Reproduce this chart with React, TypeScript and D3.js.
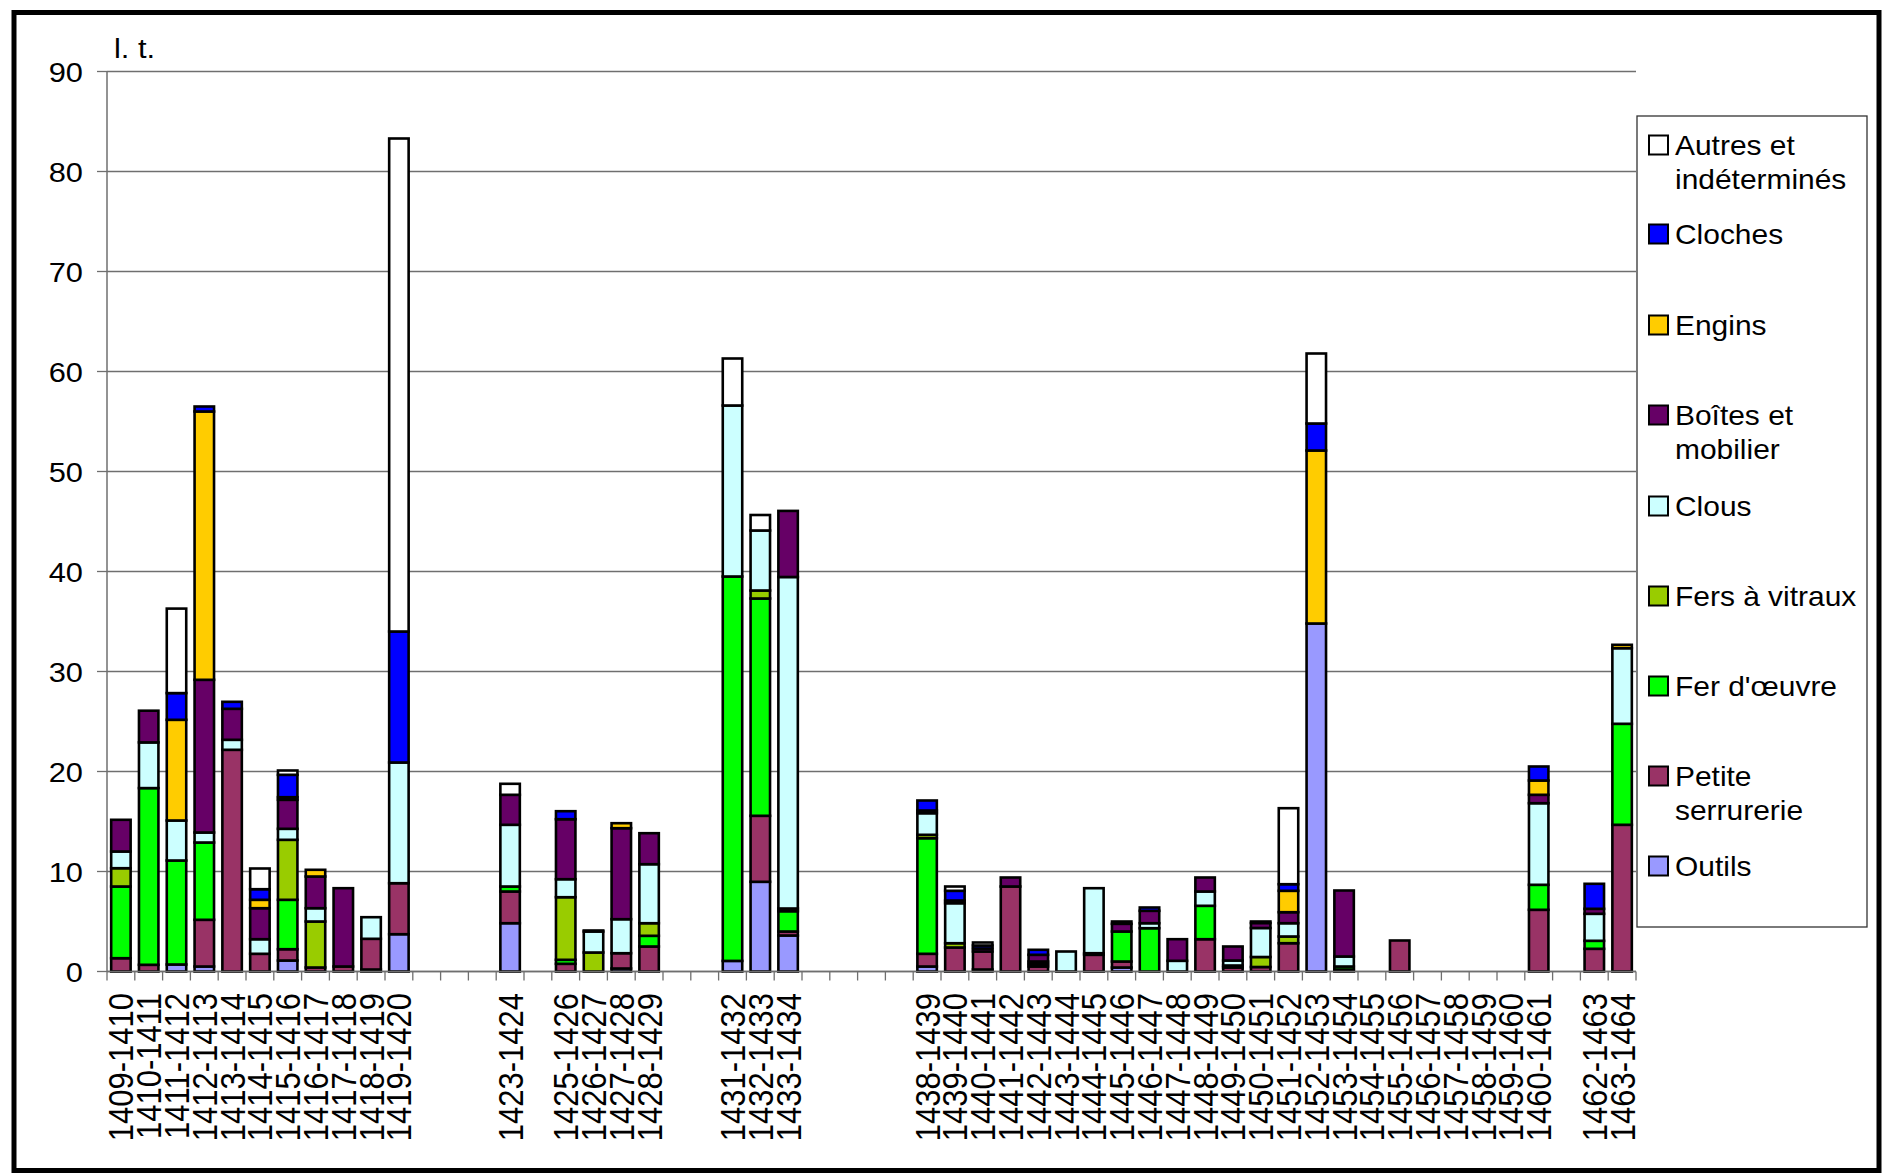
import React from "react";
import * as d3 from "d3";

const categories: string[] = [
  "1409-1410", "1410-1411", "1411-1412", "1412-1413", "1413-1414", "1414-1415", "1415-1416", "1416-1417", "1417-1418", "1418-1419", "1419-1420",
  "", "", "",
  "1423-1424",
  "",
  "1425-1426", "1426-1427", "1427-1428", "1428-1429",
  "", "",
  "1431-1432", "1432-1433", "1433-1434",
  "", "", "", "",
  "1438-1439", "1439-1440", "1440-1441", "1441-1442", "1442-1443", "1443-1444", "1444-1445", "1445-1446", "1446-1447", "1447-1448",
  "1448-1449", "1449-1450", "1450-1451", "1451-1452", "1452-1453", "1453-1454", "1454-1455", "1455-1456", "1456-1457", "1457-1458",
  "1458-1459", "1459-1460", "1460-1461",
  "",
  "1462-1463", "1463-1464",
];

// Stack order bottom -> top
const outils = [0, 0, 0.7, 0.5, 0, 0, 1.1, 0, 0, 0.2, 3.73, 0, 0, 0, 4.83, 0, 0, 0, 0.3, 0, 0, 0, 1.06, 8.97, 3.6, 0, 0, 0, 0, 0.5, 0, 0.2, 0, 0, 0, 0, 0.4, 0, 0, 0, 0, 0, 0, 34.8, 0, 0, 0, 0, 0, 0, 0, 0, 0, 0, 0];
const petite = [1.33, 0.67, 0, 4.67, 22.17, 1.77, 1.13, 0.4, 0.5, 3.07, 5.1, 0, 0, 0, 3.17, 0, 0.77, 0, 1.53, 2.5, 0, 0, 0, 6.6, 0.4, 0, 0, 0, 0, 1.27, 2.4, 1.8, 8.5, 0.5, 0, 1.67, 0.6, 0, 0, 3.23, 0.4, 0.45, 2.83, 0, 0.2, 0, 3.1, 0, 0, 0, 0, 6.17, 0, 2.27, 14.67];
const ferOeuvre = [7.17, 17.67, 10.4, 7.73, 0, 0, 4.94, 0, 0, 0, 0, 0, 0, 0, 0.5, 0, 0.4, 0, 0, 1.07, 0, 0, 38.44, 21.73, 2.03, 0, 0, 0, 0, 11.56, 0, 0, 0, 0.25, 0, 0.16, 3.0, 4.33, 0, 3.34, 0.2, 0, 0, 0, 0.3, 0, 0, 0, 0, 0, 0, 2.5, 0, 0.8, 10.1];
const fersVitraux = [1.83, 0, 0, 0, 0, 0, 6.0, 4.6, 0, 0, 0, 0, 0, 0, 0, 0, 6.26, 1.9, 0, 1.26, 0, 0, 0, 0.8, 0.27, 0, 0, 0, 0, 0.34, 0.43, 0, 0, 0.25, 0, 0, 0, 0, 0, 0, 0, 1.0, 0.67, 0, 0, 0, 0, 0, 0, 0, 0, 0, 0, 0, 0];
const clous = [1.67, 4.57, 4.0, 1.0, 1.0, 1.46, 1.1, 1.33, 0, 2.16, 12.07, 0, 0, 0, 6.17, 0, 1.8, 2.1, 3.4, 5.9, 0, 0, 17.1, 6.0, 33.15, 0, 0, 0, 0, 2.16, 4.0, 0, 0, 0, 2.0, 6.5, 0, 0.5, 1.07, 1.43, 0.5, 2.9, 1.33, 0, 1.0, 0, 0, 0, 0, 0, 0, 8.16, 0, 2.7, 7.56];
const boites = [3.17, 3.17, 0, 15.27, 3.1, 3.1, 2.9, 3.17, 7.83, 0, 0, 0, 0, 0, 3.0, 0, 6.0, 0.1, 9.1, 3.1, 0, 0, 0, 0, 6.61, 0, 0, 0, 0, 0.27, 0.27, 0.3, 0.9, 0.67, 0, 0, 0.77, 1.24, 2.16, 1.4, 1.4, 0.5, 1.1, 0, 6.6, 0, 0, 0, 0, 0, 0, 0.84, 0, 0.5, 0];
const engins = [0, 0, 10.07, 26.83, 0, 0.84, 0.26, 0.67, 0, 0, 0, 0, 0, 0, 0, 0, 0, 0, 0.5, 0, 0, 0, 0, 0, 0, 0, 0, 0, 0, 0, 0, 0, 0, 0, 0, 0, 0, 0, 0, 0, 0, 0, 2.14, 17.3, 0, 0, 0, 0, 0, 0, 0, 1.43, 0, 0, 0.34];
const cloches = [0, 0, 2.67, 0.5, 0.7, 1.06, 2.24, 0, 0, 0, 13.1, 0, 0, 0, 0, 0, 0.8, 0, 0, 0, 0, 0, 0, 0, 0, 0, 0, 0, 0, 1.0, 0.97, 0.3, 0, 0.5, 0, 0, 0.23, 0.33, 0, 0, 0, 0.15, 0.66, 2.7, 0, 0, 0, 0, 0, 0, 0, 1.4, 0, 2.5, 0];
const autres = [0, 0, 8.45, 0, 0, 2.07, 0.43, 0, 0, 0, 49.3, 0, 0, 0, 1.1, 0, 0, 0, 0, 0, 0, 0, 4.7, 1.55, 0, 0, 0, 0, 0, 0, 0.43, 0.3, 0, 0, 0, 0, 0, 0, 0, 0, 0, 0, 7.6, 7.0, 0, 0, 0, 0, 0, 0, 0, 0, 0, 0, 0];

const seriesNames = ["Outils", "Petite serrurerie", "Fer d'œuvre", "Fers à vitraux", "Clous", "Boîtes et mobilier", "Engins", "Cloches", "Autres et indéterminés"];
const seriesColors = ["#9999FF", "#993366", "#00FF00", "#99CC00", "#CCFFFF", "#660066", "#FFCC00", "#0000FF", "#FFFFFF"];
const seriesValues = [outils, petite, ferOeuvre, fersVitraux, clous, boites, engins, cloches, autres];

// legend order top -> bottom, with line breaks
const legendLines: string[][] = [
  ["Autres et", "indéterminés"],
  ["Cloches"],
  ["Engins"],
  ["Boîtes et", "mobilier"],
  ["Clous"],
  ["Fers à vitraux"],
  ["Fer d'œuvre"],
  ["Petite", "serrurerie"],
  ["Outils"],
];
const legendSeriesIndex = [8, 7, 6, 5, 4, 3, 2, 1, 0];

const yTicks = [0, 10, 20, 30, 40, 50, 60, 70, 80, 90];

const W = 1883;
const H = 1176;
const FONT = "'Liberation Sans', Arial, Helvetica, sans-serif";

export default function App() {
  const plotLeft = 107;
  const plotRight = 1636;
  const plotTop = 71.5;
  const plotBottom = 971.5;

  const keys = categories.map((_, i) => String(i));
  const x = d3.scaleBand<string>().domain(keys).range([plotLeft, plotRight]).paddingInner(0.3).paddingOuter(0.15);
  const step = (plotRight - plotLeft) / categories.length;
  const y = d3.scaleLinear().domain([0, 90]).range([plotBottom, plotTop]);

  const table = categories.map((c, i) => {
    const row: Record<string, number | string> = { key: String(i) };
    seriesNames.forEach((s, j) => (row[s] = seriesValues[j][i]));
    return row;
  });
  const stacked = d3.stack<Record<string, number | string>>().keys(seriesNames).value((d, k) => d[k] as number)(table);

  const gridColor = "#6f6f6f";

  const legendX = 1637;
  const legendY = 116;
  const legendW = 230;
  const legendH = 811;
  const itemY = [145, 234, 325, 415, 506, 596, 686, 776, 866];

  return (
    <div style={{ position: "absolute", left: 0, top: 0 }}>
      <svg width={W} height={H} style={{ display: "block", background: "#fff" }} fontFamily={FONT}>
        <rect x={0} y={0} width={W} height={H} fill="#fff" />
        {/* outer frame */}
        <rect x={14} y={12.5} width={1865} height={1158} fill="none" stroke="#000" strokeWidth={5} />

        {/* gridlines */}
        {yTicks.map((t) => (
          <line key={"g" + t} x1={plotLeft} x2={plotRight} y1={y(t)} y2={y(t)} stroke={gridColor} strokeWidth={1.3} />
        ))}
        {/* y axis */}
        <line x1={plotLeft} x2={plotLeft} y1={plotTop} y2={plotBottom} stroke={gridColor} strokeWidth={1.5} />
        {yTicks.map((t) => (
          <g key={"yt" + t}>
            <line x1={97} x2={plotLeft} y1={y(t)} y2={y(t)} stroke={gridColor} strokeWidth={1.3} />
            <text transform={`translate(83,${y(t)}) scale(1.1,1)`} dy="0.36em" textAnchor="end" fontSize={28} fill="#000">
              {t}
            </text>
          </g>
        ))}
        <text transform="translate(114,58) scale(1.1,1)" fontSize={28} fill="#000">l. t.</text>

        {/* bars */}
        {stacked.map((layer, j) => (
          <g key={"s" + j}>
            {layer.map((d, i) => {
              const v = seriesValues[j][i];
              if (!v) return null;
              const y0 = y(d[0]);
              const y1 = y(d[1]);
              return (
                <rect
                  key={i}
                  x={x(String(i))}
                  y={y1}
                  width={x.bandwidth()}
                  height={Math.max(0, y0 - y1)}
                  fill={seriesColors[j]}
                  stroke="#000"
                  strokeWidth={2.6}
                />
              );
            })}
          </g>
        ))}

        {/* x axis */}
        <line x1={plotLeft} x2={plotRight} y1={plotBottom} y2={plotBottom} stroke={gridColor} strokeWidth={1.5} />
        {d3.range(categories.length + 1).map((i) => (
          <line key={"xt" + i} x1={plotLeft + i * step} x2={plotLeft + i * step} y1={plotBottom} y2={plotBottom + 9} stroke={gridColor} strokeWidth={1.3} />
        ))}
        {categories.map((c, i) =>
          c ? (
            <text
              key={"xl" + i}
              transform={`translate(${(x(String(i)) as number) + x.bandwidth() / 2},${993}) rotate(-90) scale(1,1.12)`}
              textAnchor="end"
              dy="0.36em"
              fontSize={31}
              fill="#000"
            >
              {c}
            </text>
          ) : null
        )}

        {/* legend */}
        <rect x={legendX} y={legendY} width={legendW} height={legendH} fill="#fff" stroke="#333" strokeWidth={1.3} />
        {legendLines.map((lines, k) => {
          const si = legendSeriesIndex[k];
          const cy = itemY[k];
          return (
            <g key={"lg" + k}>
              <rect x={1649} y={cy - 9.5} width={19} height={19} fill={seriesColors[si]} stroke="#000" strokeWidth={2} />
              {lines.map((ln, li) => (
                <text key={li} transform={`translate(1675,${cy + li * 34}) scale(1.05,1)`} dy="0.36em" fontSize={28.5} fill="#000">
                  {ln}
                </text>
              ))}
            </g>
          );
        })}
      </svg>
    </div>
  );
}
